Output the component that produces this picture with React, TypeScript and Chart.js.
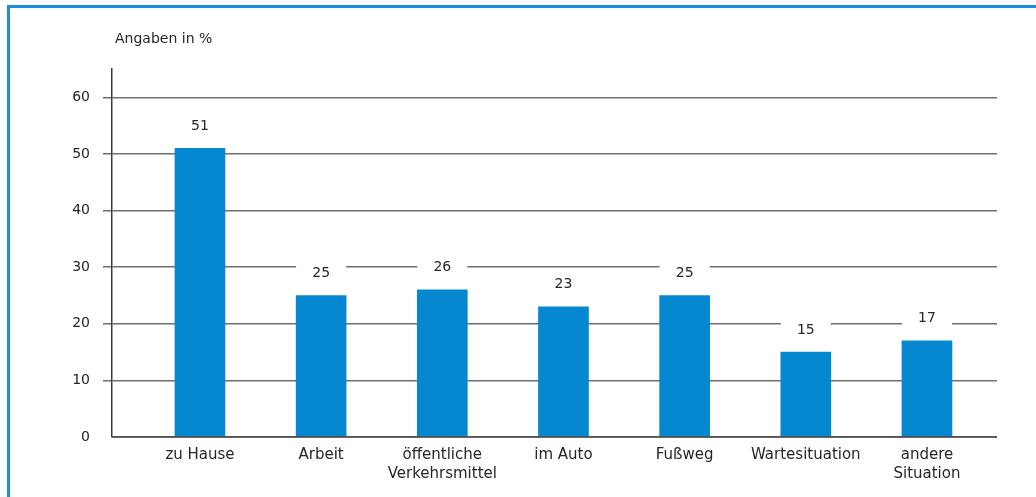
import React, { useEffect, useRef } from 'react';
import { Chart, registerables } from 'chart.js';

Chart.register(...registerables);

const categories = ['zu Hause', 'Arbeit', 'öffentliche Verkehrsmittel', 'im Auto', 'Fußweg', 'Wartesituation', 'andere Situation'];
const categoryLines = [['zu Hause'], ['Arbeit'], ['öffentliche', 'Verkehrsmittel'], ['im Auto'], ['Fußweg'], ['Wartesituation'], ['andere', 'Situation']];
const values = [51, 25, 26, 23, 25, 15, 17];
const yTicks = [0, 10, 20, 30, 40, 50, 60];
const yAxisTitle = 'Angaben in %';

const BLUE = '#1b8fd9';
const BAR = '#0588d0';
const TEXT = '#262626';
const GRID = '#6f6f6f';
const FONT = '"DejaVu Sans", sans-serif';

const decor = {
  id: 'decor',
  beforeDraw(chart: any) {
    const ctx = chart.ctx;
    ctx.save();
    ctx.fillStyle = '#ffffff';
    ctx.fillRect(0, 0, chart.width, chart.height);
    ctx.fillStyle = BLUE;
    ctx.fillRect(7, 5, 3, chart.height - 5);
    ctx.fillRect(7, 5, chart.width - 7, 3);
    ctx.font = '14px ' + FONT;
    ctx.fillStyle = TEXT;
    ctx.textAlign = 'left';
    ctx.textBaseline = 'middle';
    ctx.fillText(yAxisTitle, 115, 39);
    ctx.restore();
  },
  afterDatasetsDraw(chart: any) {
    const ctx = chart.ctx;
    const meta = chart.getDatasetMeta(0);
    ctx.save();
    meta.data.forEach((bar: any, i: number) => {
      const { x, y, width } = bar.getProps(['x', 'y', 'width'], true);
      ctx.fillStyle = '#ffffff';
      ctx.fillRect(x - width / 2, y - 36, width, 35);
      ctx.fillStyle = TEXT;
      ctx.font = '14px ' + FONT;
      ctx.textAlign = 'center';
      ctx.textBaseline = 'middle';
      ctx.fillText(String(values[i]), x, y - 22);
    });
    const { left, right, bottom } = chart.chartArea;
    ctx.strokeStyle = '#4a4a4a';
    ctx.lineWidth = 1.5;
    ctx.beginPath();
    ctx.moveTo(left, bottom);
    ctx.lineTo(right, bottom);
    ctx.stroke();
    ctx.restore();
  },
};

export default function App() {
  const ref = useRef<HTMLCanvasElement | null>(null);
  useEffect(() => {
    if (!ref.current) return;
    const chart = new Chart(ref.current, {
      type: 'bar',
      data: {
        datasets: [
          {
            label: yAxisTitle,
            data: values.map((v, i) => ({ x: i, y: v })),
            backgroundColor: BAR,
            borderWidth: 0,
            barThickness: 50,
          },
        ],
      },
      options: {
        responsive: false,
        animation: false,
        devicePixelRatio: 1,
        layout: { padding: { left: 0, top: 69, right: 39, bottom: 0 } },
        plugins: { legend: { display: false }, tooltip: { enabled: false } },
        scales: {
          x: {
            type: 'linear',
            min: -0.726,
            max: 6.578,
            offset: false,
            grid: { display: false, drawTicks: false },
            border: { display: false },
            afterBuildTicks: (s: any) => {
              s.ticks = categories.map((_, i) => ({ value: i }));
            },
            afterFit: (s: any) => {
              s.height = 60;
            },
            ticks: {
              autoSkip: false,
              maxRotation: 0,
              minRotation: 0,
              padding: 9,
              color: TEXT,
              font: { family: FONT, size: 15, lineHeight: 1.24 },
              callback: (v: any) => categoryLines[v] ?? '',
            },
          },
          y: {
            min: 0,
            max: 65,
            afterBuildTicks: (s: any) => {
              s.ticks = yTicks.map((v) => ({ value: v }));
            },
            afterFit: (s: any) => {
              s.width = 112;
            },
            grid: {
              color: GRID,
              lineWidth: 1.5,
              tickLength: 9,
              tickColor: (c: any) => (c.tick && c.tick.value === 0 ? 'rgba(0,0,0,0)' : GRID),
            },
            border: { display: true, color: '#3c3c3c', width: 1.5 },
            ticks: {
              padding: 13,
              color: TEXT,
              font: { family: FONT, size: 14 },
            },
          },
        },
      },
      plugins: [decor],
    } as any);
    return () => chart.destroy();
  }, []);
  return (
    <div style={{ position: 'absolute', left: 0, top: 0, width: 1036, height: 497 }}>
      <canvas ref={ref} width={1036} height={497} />
    </div>
  );
}
